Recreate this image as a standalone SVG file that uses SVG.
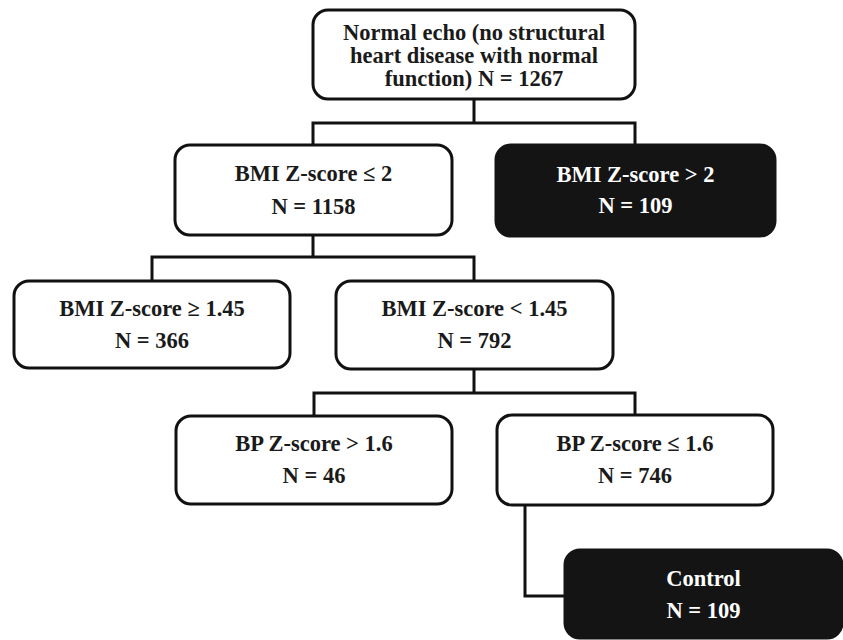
<svg xmlns="http://www.w3.org/2000/svg" width="843" height="640" viewBox="0 0 843 640">
<style>
.box{fill:#fff;stroke:#111;stroke-width:3}
.dark{fill:#141414;stroke:#141414;stroke-width:3}
.t{font-family:"Liberation Serif","Times New Roman",serif;font-weight:bold;font-size:22.5px;text-anchor:middle;fill:#1a1a1a}
.w{fill:#fff}
.c{fill:none;stroke:#111;stroke-width:3}
</style>
<rect width="843" height="640" fill="#fff"/>
<g id="connectors">
<path class="c" d="M474 99V123M313 145V123H635V145"/>
<path class="c" d="M313 235V257M152 281V257H474V281"/>
<path class="c" d="M474 369V393M314 416V393H635V415"/>
<path class="c" d="M525 505V596H565"/>
</g>
<g id="root">
<rect class="box" x="313" y="10" width="322" height="89" rx="15"/>
<text class="t" x="474" y="40">Normal echo (no structural</text>
<text class="t" x="474" y="63">heart disease with normal</text>
<text class="t" x="474" y="86">function) N = 1267</text>
</g>
<g id="bmi-le2">
<rect class="box" x="175" y="145" width="277" height="90" rx="15"/>
<text class="t" x="313.5" y="181">BMI Z-score ≤ 2</text>
<text class="t" x="313.5" y="214">N = 1158</text>
</g>
<g id="bmi-gt2">
<rect class="dark" x="496" y="145" width="279" height="91" rx="15"/>
<text class="t w" x="635.5" y="182">BMI Z-score &gt; 2</text>
<text class="t w" x="635.5" y="213">N = 109</text>
</g>
<g id="bmi-ge145">
<rect class="box" x="14" y="281" width="276" height="87" rx="15"/>
<text class="t" x="152" y="316">BMI Z-score ≥ 1.45</text>
<text class="t" x="152" y="348">N = 366</text>
</g>
<g id="bmi-lt145">
<rect class="box" x="336" y="281" width="277" height="88" rx="15"/>
<text class="t" x="474.5" y="316">BMI Z-score &lt; 1.45</text>
<text class="t" x="474.5" y="348">N = 792</text>
</g>
<g id="bp-gt16">
<rect class="box" x="176" y="416" width="276" height="88" rx="15"/>
<text class="t" x="314" y="451">BP Z-score &gt; 1.6</text>
<text class="t" x="314" y="483">N = 46</text>
</g>
<g id="bp-le16">
<rect class="box" x="497" y="415" width="276" height="90" rx="15"/>
<text class="t" x="635" y="451">BP Z-score ≤ 1.6</text>
<text class="t" x="635" y="483">N = 746</text>
</g>
<g id="control">
<rect class="dark" x="565" y="550" width="277" height="88" rx="15"/>
<text class="t w" x="703.5" y="586">Control</text>
<text class="t w" x="703.5" y="618">N = 109</text>
</g>
</svg>
